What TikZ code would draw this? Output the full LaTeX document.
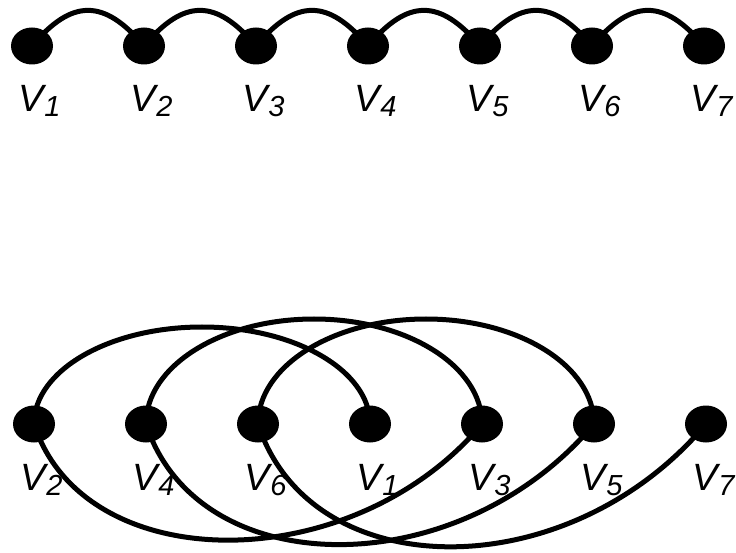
\documentclass[tikz,border=0pt]{standalone}
\usepackage{fontspec}
\setmainfont{Liberation Sans}
\usetikzlibrary{shapes.geometric}
\newcommand{\vlab}[1]{\fontsize{38}{38}\selectfont\itshape V\kern1pt\raisebox{-5pt}{\fontsize{29}{29}\selectfont #1}}
\begin{document}
\begin{tikzpicture}[x=1pt,y=1pt,
  vtx/.style={ellipse,fill=black,draw=none,minimum width=42pt,minimum height=37pt,inner sep=0pt},
  lbl/.style={anchor=base west,inner sep=0pt,outer sep=0pt},
  edge/.style={draw=black,line width=5pt},
  toparc/.style={edge,out=50,in=130,distance=62pt}]
\useasboundingbox (0,0) rectangle (736,552);
% top row
\foreach \i in {1,...,7}{
  \node[vtx] (t\i) at ({32+112*(\i-1)},506) {};
  \node[lbl] (lt\i) at ({32+112*(\i-1)-14},440) {\vlab{\i}};
}
\foreach \i [evaluate=\i as \j using int(\i+1)] in {1,...,6}{
  \draw[toparc] (t\i.center) to (t\j.center);
}
% bottom row: order v2 v4 v6 v1 v3 v5 v7
\foreach \v [count=\k from 0] in {2,4,6,1,3,5,7}{
  \node[vtx] (b\v) at ({34+112*\k},128) {};
  \node[lbl] (lb\v) at ({34+112*\k-14},62) {\vlab{\v}};
}
% upper arcs
\draw[edge] (b2.center) arc[start angle=180,end angle=0,x radius=168,y radius=97] -- (b1.center);
\draw[edge] (b4.center) arc[start angle=180,end angle=0,x radius=168,y radius=105] -- (b3.center);
\draw[edge] (b6.center) arc[start angle=180,end angle=0,x radius=168,y radius=105] -- (b5.center);
% lower arcs
\draw[edge] (b2.center) to[out=-72,in=-130,out distance=163pt,in distance=202pt] (b3.center);
\draw[edge] (b4.center) to[out=-72,in=-130,out distance=169pt,in distance=210pt] (b5.center);
\draw[edge] (b6.center) to[out=-72,in=-130,out distance=172pt,in distance=214pt] (b7.center);
\end{tikzpicture}
\end{document}
